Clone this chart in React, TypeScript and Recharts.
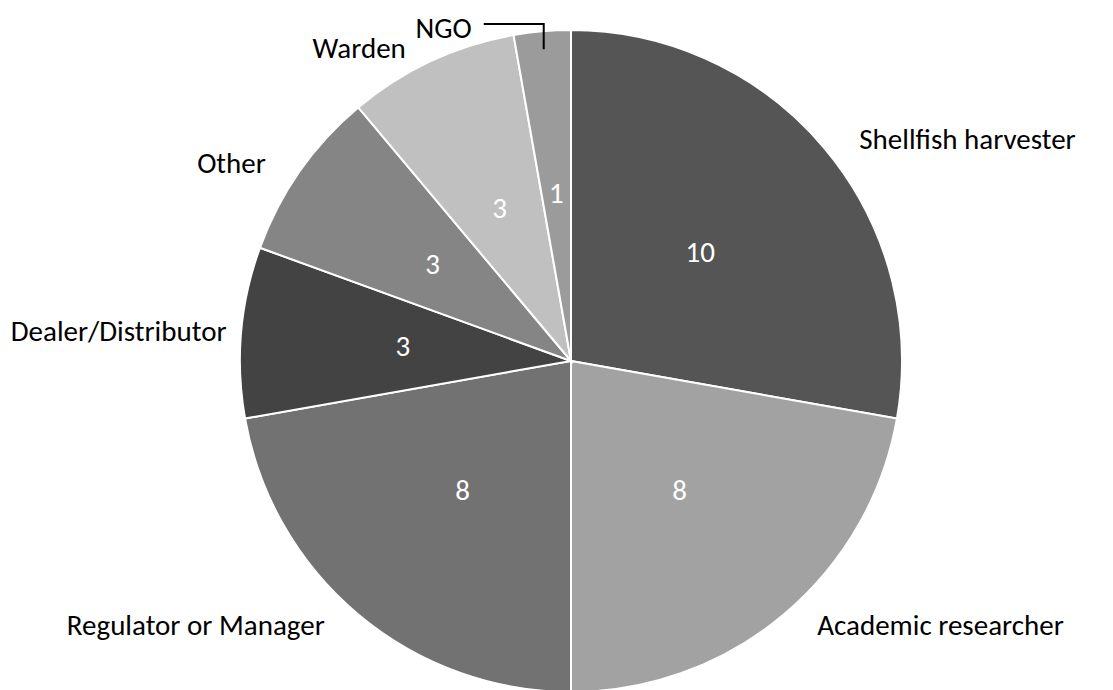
import { PieChart, Pie, Cell } from 'recharts';

const categories = [
  'Shellfish harvester',
  'Academic researcher',
  'Regulator or Manager',
  'Dealer/Distributor',
  'Other',
  'Warden',
  'NGO',
];
const counts = [10, 8, 8, 3, 3, 3, 1];
const sliceColors = ['#555555', '#a2a2a2', '#727272', '#434343', '#858585', '#c0c0c0', '#9b9b9b'];

const data = categories.map((name, i) => ({ name, value: counts[i] }));

const RADIAN = Math.PI / 180;
const FONT = 'Calibri, Carlito, Lato, sans-serif';
const FONT_SIZE = 29;

function renderLabel(props: any) {
  const { cx, cy, midAngle, outerRadius, percent, name, value } = props;
  const c = Math.cos(midAngle * RADIAN);
  const s = Math.sin(midAngle * RADIAN);

  // value inside the slice
  const ri = outerRadius * 0.51;
  const ix = cx + ri * c;
  const iy = cy - ri * s;

  let outer;
  if (percent < 0.05) {
    // small slice: leader line going up and to the left
    const qx = cx + (outerRadius - 18) * c;
    const qy = cy - (outerRadius - 18) * s;
    const topY = cy - outerRadius - 6;
    outer = (
      <g>
        <polyline
          points={`${qx},${qy} ${qx},${topY} ${qx - 60},${topY}`}
          fill="none"
          stroke="#000"
          strokeWidth={2}
        />
        <text
          x={qx - 72}
          y={topY + 4}
          textAnchor="end"
          dominantBaseline="central"
          fill="#000"
          fontSize={FONT_SIZE}
          fontFamily={FONT}
        >
          {name}
        </text>
      </g>
    );
  } else {
    // names sit just outside the rim, a bit further out on the diagonals
    const ax = outerRadius * 1.03 + 55 * Math.abs(s);
    const ox = cx + ax * c;
    const oy = cy - outerRadius * 1.042 * s;
    outer = (
      <text
        x={ox}
        y={oy}
        textAnchor={c >= 0 ? 'start' : 'end'}
        dominantBaseline="central"
        fill="#000"
        fontSize={FONT_SIZE}
        fontFamily={FONT}
      >
        {name}
      </text>
    );
  }

  return (
    <g>
      <text
        x={ix}
        y={iy}
        textAnchor="middle"
        dominantBaseline="central"
        fill="#fff"
        fontSize={FONT_SIZE}
        fontFamily={FONT}
      >
        {value}
      </text>
      {outer}
    </g>
  );
}

export default function App() {
  return (
    <div style={{ position: 'absolute', left: 0, top: 0, width: 1113, height: 690, background: '#fff' }}>
      <PieChart width={1113} height={690}>
        <Pie
          data={data}
          dataKey="value"
          nameKey="name"
          cx={566}
          cy={356}
          outerRadius={331}
          startAngle={90}
          endAngle={-270}
          stroke="#fff"
          strokeWidth={2}
          label={renderLabel}
          labelLine={false}
          isAnimationActive={false}
        >
          {data.map((d, i) => (
            <Cell key={d.name} fill={sliceColors[i]} />
          ))}
        </Pie>
      </PieChart>
    </div>
  );
}
